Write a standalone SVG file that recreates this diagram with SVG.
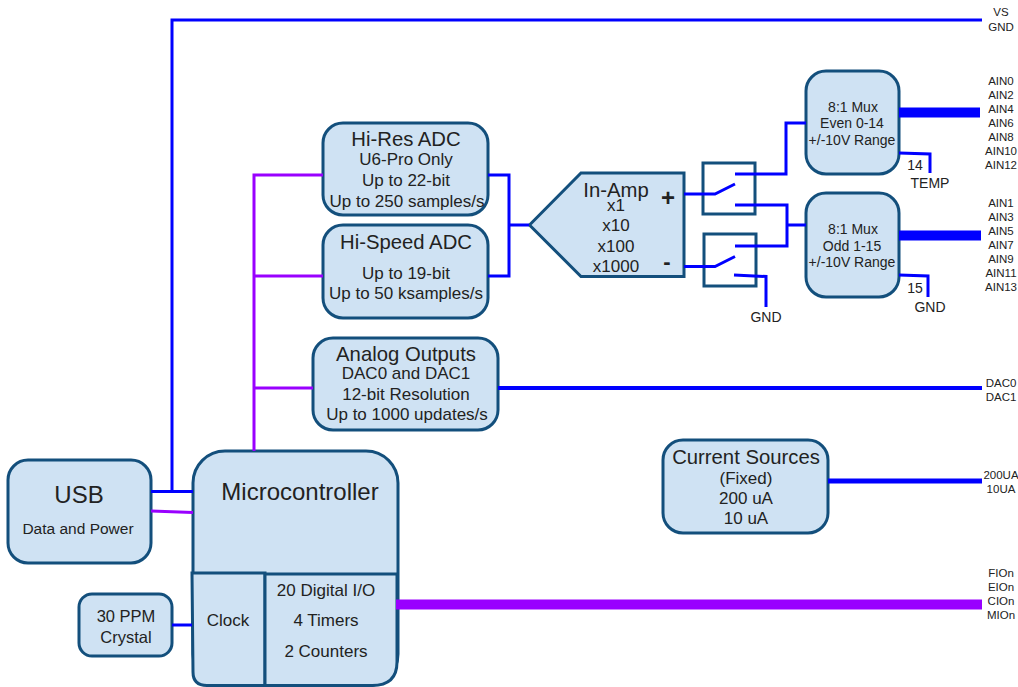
<svg xmlns="http://www.w3.org/2000/svg" width="1018" height="687" viewBox="0 0 1018 687">
<style>
text{font-family:"Liberation Sans",Arial,sans-serif;fill:#222;text-anchor:middle}
.n{fill:#cfe2f3;stroke:#134f7c;stroke-width:3}
.sw{fill:none;stroke:#134f7c;stroke-width:3}
.b{fill:none;stroke:#0000ff;stroke-width:3}
.p{fill:none;stroke:#9900ff;stroke-width:3}
.h{font-size:20.300px}.m{font-size:17px}.x{font-size:14px}.l{font-size:11.500px}
</style>
<rect width="1018" height="687" fill="#fff"/>
<g id="usb"><rect class="n" x="8" y="460" width="143" height="103" rx="20"/><text x="79" y="503" font-size="24">USB</text><text x="78" y="534" font-size="15.500">Data and Power</text></g>
<g id="microcontroller"><rect class="n" x="193" y="451" width="205" height="235" rx="32"/><text x="300" y="500" font-size="24">Microcontroller</text></g>
<g id="clock"><path class="n" d="M192 573H265V685.500H207Q193 685.500 193 672Z"/><text class="m" x="228" y="626">Clock</text></g>
<g id="digital"><path class="n" d="M265 574H397V662Q397 685.500 372 685.500H265Z"/><text class="m" x="326" y="596">20 Digital I/O</text><text class="m" x="326" y="626">4 Timers</text><text class="m" x="326" y="657">2 Counters</text></g>
<g id="crystal"><rect class="n" x="79" y="594" width="93" height="62" rx="13"/><text x="126" y="622" font-size="16.500">30 PPM</text><text x="126" y="643" font-size="16.500">Crystal</text></g>
<g id="hires"><rect class="n" x="323" y="123" width="165" height="92" rx="20"/><text class="h" x="406" y="146">Hi-Res ADC</text><text class="m" x="406" y="165">U6-Pro Only</text><text class="m" x="406" y="186">Up to 22-bit</text><text class="m" x="407" y="207">Up to 250 samples/s</text></g>
<g id="hispeed"><rect class="n" x="323" y="225" width="165" height="93" rx="20"/><text class="h" x="406" y="249">Hi-Speed ADC</text><text class="m" x="406" y="279">Up to 19-bit</text><text class="m" x="406" y="299">Up to 50 ksamples/s</text></g>
<g id="analog"><rect class="n" x="313" y="338" width="185" height="92" rx="20"/><text class="h" x="406" y="361">Analog Outputs</text><text class="m" x="406" y="379">DAC0 and DAC1</text><text class="m" x="406" y="400">12-bit Resolution</text><text class="m" x="407" y="420">Up to 1000 updates/s</text></g>
<g id="inamp"><path class="n" d="M529.500 225L581 173H684V276.500H581Z"/><text class="h" x="616" y="197">In-Amp</text><text class="m" x="616" y="211">x1</text><text class="m" x="616" y="231">x10</text><text class="m" x="616" y="252">x100</text><text class="m" x="616" y="272">x1000</text><text x="668" y="206" font-size="24" font-weight="bold">+</text><text x="667" y="269" font-size="22" font-weight="bold">-</text></g>
<g id="switch1"><rect class="sw" x="703" y="163" width="52" height="51"/></g>
<g id="switch2"><rect class="sw" x="704" y="234" width="52" height="52"/></g>
<g id="mux1"><rect class="n" x="806" y="71" width="93" height="103" rx="20"/><text class="x" x="853" y="112">8:1 Mux</text><text class="x" x="852" y="128">Even 0-14</text><text class="x" x="852" y="145">+/-10V Range</text></g>
<g id="mux2"><rect class="n" x="806" y="193" width="93" height="104" rx="20"/><text class="x" x="853" y="234">8:1 Mux</text><text class="x" x="852" y="251">Odd 1-15</text><text class="x" x="852" y="267">+/-10V Range</text></g>
<g id="current"><rect class="n" x="663" y="440" width="165" height="93" rx="20"/><text class="h" x="746" y="464">Current Sources</text><text class="m" x="746" y="484">(Fixed)</text><text class="m" x="746" y="504">200 uA</text><text class="m" x="746" y="524">10 uA</text></g>
<g id="connectors">
<path class="b" d="M172 491V20H982"/>
<path class="b" d="M151 491.500H193"/>
<path class="p" d="M151 511L193 512.500"/>
<path class="p" d="M254 451V175H323M254 276H323M254 388H313"/>
<path class="b" d="M488 175H509V276H488M509 225H529"/>
<path class="b" style="stroke-width:4" d="M498 388H982"/>
<path class="b" style="stroke-width:5" d="M828 481H982"/>
<path class="p" style="stroke-width:10" d="M396 604.500H982"/>
<path class="b" d="M172 625H192"/>
<path class="b" d="M684 194H715L735 184M684 266.500H715L735 256.500"/>
<path class="b" d="M735 174H786V123H806M735 205H787V246H735M787 225H806"/>
<path class="b" d="M734 275L766 276.500V307"/>
<path class="b" style="stroke-width:10" d="M899 112.500H980M899 235.500H981"/>
<path class="b" d="M899 153L930 154V173M899 275L928 276V297"/>
</g>
<g id="labels">
<text class="x" x="766" y="322">GND</text>
<text class="x" x="915" y="170">14</text><text class="x" x="930" y="188">TEMP</text>
<text class="x" x="915" y="293">15</text><text class="x" x="930" y="312">GND</text>
<g class="l">
<text x="1001" y="16">VS</text><text x="1001" y="31">GND</text>
<text x="1001" y="85">AIN0</text><text x="1001" y="99">AIN2</text><text x="1001" y="113">AIN4</text><text x="1001" y="127">AIN6</text><text x="1001" y="141">AIN8</text><text x="1001" y="155">AIN10</text><text x="1001" y="169">AIN12</text>
<text x="1001" y="207">AIN1</text><text x="1001" y="221">AIN3</text><text x="1001" y="235">AIN5</text><text x="1001" y="249">AIN7</text><text x="1001" y="263">AIN9</text><text x="1001" y="277">AIN11</text><text x="1001" y="291">AIN13</text>
<text x="1001" y="387">DAC0</text><text x="1001" y="401">DAC1</text>
<text x="1001" y="479">200UA</text><text x="1001" y="493">10UA</text>
<text x="1001" y="577">FIOn</text><text x="1001" y="591">EIOn</text><text x="1001" y="605">CIOn</text><text x="1001" y="619">MIOn</text>
</g>
</g>
</svg>
